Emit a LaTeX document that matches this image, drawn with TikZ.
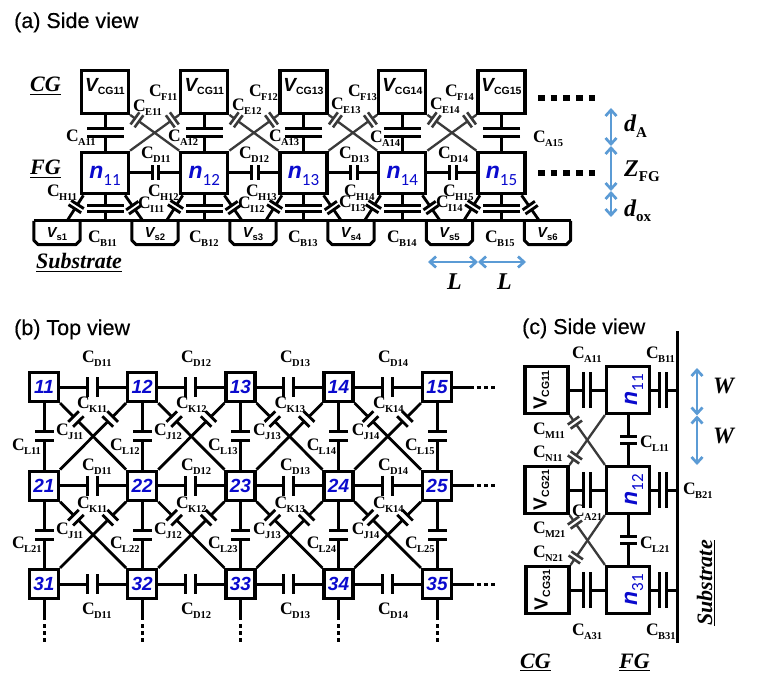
\documentclass[tikz,border=0pt]{standalone}
\usepackage{fontspec}
\setmainfont{Liberation Serif}
\setsansfont{Liberation Sans}
\newfontfamily\cali{Carlito}
\newfontfamily\ttlfont[FakeBold=0.35]{Liberation Sans}
\usetikzlibrary{arrows.meta,calc}
\definecolor{nblue}{HTML}{0A0ACD}
\definecolor{arrblue}{HTML}{5B9BD5}
\definecolor{dgray}{HTML}{3A3A3A}
\newcommand\fsz[1]{\fontsize{#1}{#1}\selectfont}
\newcommand\Cs[1]{{\bfseries\fsz{17.5}C\kern-0.8pt\raisebox{-4pt}{\fsz{10.5}#1}}}
\newcommand\VCG[1]{\smash{{\sffamily\bfseries\itshape\fsz{19}V}\raisebox{-2.5pt}{\sffamily\bfseries\fsz{10.5}CG#1}}}
\newcommand\VCGup[1]{\smash{{\sffamily\bfseries\fsz{19}V}\raisebox{-2.5pt}{\sffamily\bfseries\fsz{10.5}CG#1}}}
\newcommand\Nn[1]{{\color{nblue}{\sffamily\bfseries\itshape\fsz{23}n}\raisebox{-6pt}[0pt][0pt]{\cali\fsz{17}#1}}}
\newcommand\Vs[1]{{\sffamily\bfseries\itshape\fsz{14.5}V}\raisebox{-2.5pt}[0pt][0pt]{\sffamily\bfseries\fsz{9.5}s#1}\hspace{6pt}}
\newcommand\Gn[1]{{\color{nblue}\sffamily\bfseries\itshape\fsz{19}#1}}
\newcommand\ulbox[1]{\setbox0\hbox{#1}\rlap{\rule[-3pt]{\wd0}{1.1pt}}\box0}
% capacitor: line from #2 to #3 in style #1, plates at pos #4; #5 = {gap}{half}{width}{colour}
\newcommand\capw[5]{\draw[#1] #2 -- #3; \path #2 -- #3 pic[pos=#4,sloped]{cplates=#5};}
\tikzset{
  pics/cplates/.style n args={4}{code={
    \fill[white] (-#1/2,-#2) rectangle (#1/2,#2);
    \draw[line width=#3pt,color=#4,line cap=butt] (-#1/2,-#2) -- (-#1/2,#2) (#1/2,-#2) -- (#1/2,#2);
  }},
  wire/.style={line width=3pt,color=black,line cap=butt},
  thinw/.style={line width=2.8pt,color=black,line cap=butt},
  xwire/.style={line width=2.3pt,color=dgray,line cap=butt},
  box/.style={draw=black,line width=3.2pt,fill=white,inner sep=0pt,align=center},
  cgbox/.style={box,minimum width=47pt,minimum height=42.5pt},
  fgbox/.style={box,minimum width=47pt,minimum height=41.5pt},
  gridbox/.style={box,minimum width=29pt,minimum height=29pt},
  sidebox/.style={box,minimum width=43pt,minimum height=47pt},
  vsbox/.style={inner sep=0pt,minimum width=46pt,minimum height=23.5pt},
  clab/.style={anchor=base west,inner sep=0pt},
  ttl/.style={anchor=base west,inner sep=0pt,font=\ttlfont\fsz{21.5}},
  ital/.style={anchor=base west,inner sep=0pt,font=\bfseries\itshape\fsz{22}},
  dim/.style={line width=2.7pt,color=arrblue,{Straight Barb[length=6pt,width=11pt]}-{Straight Barb[length=6pt,width=11pt]}},
  sqdots/.style={line width=6.5pt,color=black,dash pattern=on 6.5pt off 6.2pt},
  smdots/.style={line width=3pt,color=black,dash pattern=on 4pt off 3.2pt},
}
\begin{document}
\begin{tikzpicture}[x=1pt,y=-1pt]
\useasboundingbox (0,0) rectangle (763,687);
\fill[white] (0,0) rectangle (763,687);

%% ---------- (a) ----------
\node[ttl] (ta) at (14,28) {(a) Side view};
\foreach \i/\x in {1/105,2/204.3,3/303.5,4/402.3,5/501.5}{
  \coordinate (bb\i) at (\x,221);
  \coordinate (hb\i) at (\x-38,221);
  \coordinate (ib\i) at (\x+38,221);
}
\foreach \i/\x/\t in {1/105/11,2/204.3/11,3/303.5/13,4/402.3/14,5/501.5/15}
  \node[cgbox] (cg\i) at (\x,92) {\VCG{\t}};
\foreach \i/\x/\t in {1/105/11,2/204.3/12,3/303.5/13,4/402.3/14,5/501.5/15}
  \node[fgbox,text height=12pt] (fg\i) at (\x,173) {\Nn{\t}};
\foreach \i/\x in {1/57,2/155,3/253,4/351,5/449.5,6/547.5}{
  \node[vsbox] (vs\i) at (\x,232.75) {\Vs{\i}};
  \draw[line width=3pt,line join=round] (vs\i.north west) -- ([yshift=4.5pt]vs\i.south west) -- ([xshift=4.5pt]vs\i.south west) -- ([xshift=-4.5pt]vs\i.south east) -- ([yshift=4.5pt]vs\i.south east) -- (vs\i.north east);
}
\draw[line width=3pt] (vs1.north west) -- (vs6.north east);
\foreach \i in {1,...,5}{
  \capw{wire}{(cg\i.south)}{(fg\i.north)}{.5}{{7.5}{18.5}{3}{black}}
  \capw{wire}{(fg\i.south)}{(bb\i)}{.5}{{6.2}{18.5}{3}{black}}
  \capw{thinw}{([xshift=3.5pt]fg\i.south west)}{(hb\i)}{.44}{{5}{7.5}{2.9}{black}}
  \capw{thinw}{([xshift=-5pt]fg\i.south east)}{(ib\i)}{.48}{{5}{7.5}{2.9}{black}}
}
\foreach \i/\j in {1/2,2/3,3/4,4/5}{
  \capw{wire}{(fg\i.east)}{(fg\j.west)}{.52}{{6.5}{7.5}{3}{black}}
  \capw{xwire}{(cg\i.south east)}{(fg\j.north west)}{.14}{{5}{7.5}{2.6}{dgray}}
  \capw{xwire}{(fg\i.north east)}{(cg\j.south west)}{.86}{{5}{7.5}{2.6}{dgray}}
}
\foreach \t/\x/\y in {A11/66/142,A12/168/142,A13/269/142,A14/370/143,A15/533/143,
  F11/149/97,F12/249/97,F13/348/97,F14/445/97,
  E11/133/112,E12/232/111,E13/331/110,E14/430/110,
  D11/141/159,D12/239/159,D13/339/159,D14/438/159,
  H11/47/197,H12/148/197,H13/246/197,H14/344/197,H15/443/197,
  I11/138/209,I12/238/209,I13/339/208,I14/436/208,
  B11/88/243,B12/189/243,B13/288/243,B14/387/243,B15/485/243}
  \node[clab] (la\t) at (\x,\y) {\Cs{\t}};
\node[ital] (acg) at (30,92) {\ulbox{CG}};
\node[ital] (afg) at (30,175) {\ulbox{FG}};
\node[ital] (asub) at (36,269) {\ulbox{Substrate}};
\coordinate (dt1) at (538,98); \coordinate (dt2) at (600,98);
\coordinate (dm1) at (538,173); \coordinate (dm2) at (600,173);
\draw[sqdots] (dt1) -- (dt2);
\draw[sqdots] (dm1) -- (dm2);
\coordinate (l1) at (428,262); \coordinate (l2) at (478,262); \coordinate (l3) at (526,262);
\draw[dim] (l1) -- (l2);
\draw[dim] (l2) -- (l3);
\node[anchor=base west,inner sep=0pt,font=\bfseries\itshape\fsz{24}] (tl1) at (447,289) {L};
\node[anchor=base west,inner sep=0pt,font=\bfseries\itshape\fsz{24}] (tl2) at (497,289) {L};
\coordinate (d1) at (611,108); \coordinate (d2) at (611,146); \coordinate (d3) at (611,191); \coordinate (d4) at (611,217);
\draw[dim] (d1) -- (d2);
\draw[dim] (d2) -- (d3);
\draw[dim] (d3) -- (d4);
\node[anchor=base west,inner sep=0pt] (tda) at (624,132) {\bfseries{\itshape\fsz{24}d}\raisebox{-6pt}{\fsz{15}A}};
\node[anchor=base west,inner sep=0pt] (tzf) at (624,177) {\bfseries{\itshape\fsz{24}Z}\raisebox{-5pt}{\fsz{15}FG}};
\node[anchor=base west,inner sep=0pt] (tdo) at (624,217) {\bfseries{\itshape\fsz{24}d}\raisebox{-5pt}{\fsz{15}ox}};

%% ---------- (b) ----------
\node[ttl] (tb) at (14,335) {(b) Top view};
\foreach \r/\y in {1/387,2/485.7,3/584}{
  \foreach \c/\x in {1/44,2/142.2,3/240.5,4/338.5,5/437}{
    \node[gridbox] (g\r\c) at (\x,\y) {\Gn{\r\c}};
  }
}
\foreach \r in {1,2,3}{
  \foreach \c/\d in {1/2,2/3,3/4,4/5}{
    \capw{wire}{(g\r\c.east)}{(g\r\d.west)}{.49}{{10}{10}{3}{black}}
  }
}
\foreach \r/\s in {1/2,2/3}{
  \foreach \c in {1,...,5}{
    \capw{wire}{(g\r\c.south)}{(g\s\c.north)}{.5}{{9}{9.5}{3}{black}}
  }
  \foreach \c/\d in {1/2,2/3,3/4,4/5}{
    \capw{thinw}{(g\r\c.south east)}{(g\s\d.north west)}{.24}{{7}{7.5}{2.8}{black}}
    \capw{thinw}{(g\r\d.south west)}{(g\s\c.north east)}{.24}{{7}{7.5}{2.8}{black}}
  }
}
\foreach \r/\y in {1/387,2/485.7,3/584}{
  \coordinate (rs\r) at (473.5,\y);
  \coordinate (ra\r) at (476.7,\y);
  \coordinate (rb\r) at (496,\y);
  \draw[wire] (g\r5.east) -- (rs\r);
  \draw[smdots] (ra\r) -- (rb\r);
}
\foreach \c/\x in {1/44,2/142.2,3/240.5,4/338.5,5/437}{
  \coordinate (ds\c) at (\x,620);
  \coordinate (da\c) at (\x,624);
  \coordinate (db\c) at (\x,642);
  \draw[wire] (g3\c.south) -- (ds\c);
  \draw[smdots] (da\c) -- (db\c);
}
\foreach \n/\x in {11/82,12/181,13/280,14/378}{
  \node[clab] (lbd\n a) at (\x,362) {\Cs{D\n}};
  \node[clab] (lbd\n b) at (\x,470) {\Cs{D\n}};
  \node[clab] (lbd\n c) at (\x,614) {\Cs{D\n}};
}
\foreach \n/\x in {11/77,12/176,13/274.5,14/373}{
  \node[clab] (lbk\n a) at (\x,408) {\Cs{K\n}};
  \node[clab] (lbk\n b) at (\x,508) {\Cs{K\n}};
}
\foreach \n/\x in {11/56,12/154,13/253,14/351.7}{
  \node[clab] (lbj\n a) at (\x,435) {\Cs{J\n}};
  \node[clab] (lbj\n b) at (\x,534) {\Cs{J\n}};
}
\foreach \n/\x in {1/12,2/110,3/208,4/306.7,5/405}{
  \node[clab] (lbl\n a) at (\x,450) {\Cs{L1\n}};
  \node[clab] (lbl\n b) at (\x,548) {\Cs{L2\n}};
}

%% ---------- (c) ----------
\node[ttl] (tc) at (522,334) {(c) Side view};
\coordinate (st) at (677,331); \coordinate (sb) at (677,643);
\draw[line width=3pt] (st) -- (sb);
\foreach \r/\y/\x/\t/\u in {1/390/546.5/11/11,2/490/546.5/21/12,3/590/547.5/31/31}{
  \node[sidebox] (sv\r) at (\x,\y) {};
  \node[rotate=90,inner sep=0pt] (svt\r) at (sv\r.center) {\VCGup{\t}};
  \node[sidebox] (sn\r) at (628,\y) {};
  \node[rotate=90,inner sep=0pt,text height=12pt] (snt\r) at ([xshift=3pt]sn\r.center) {\Nn{\u}};
  \coordinate (sx\r) at (677,\y);
  \capw{wire}{(sv\r.east)}{(sn\r.west)}{.49}{{7}{18}{3}{black}}
  \capw{wire}{(sn\r.east)}{(sx\r)}{.47}{{7}{18}{3}{black}}
}
\foreach \r/\s in {1/2,2/3}{
  \capw{wire}{(sn\r.south)}{(sn\s.north)}{.5}{{7.3}{8.5}{3}{black}}
  \capw{xwire}{(sv\r.south east)}{(sn\s.north west)}{.15}{{5}{7}{2.6}{dgray}}
  \capw{xwire}{(sn\r.south west)}{(sv\s.north east)}{.85}{{5}{7}{2.6}{dgray}}
}
\foreach \t/\x/\y in {A11/572/358,B11/646/358,M11/533/434,N11/533/457,L11/640/447,
  B21/683/494,A21/572/516,M21/533/533,N21/533/557,L21/640/548,A31/572/635,B31/646/635}
  \node[clab] (lc\t) at (\x,\y) {\Cs{\t}};
\node[ital] (ccg) at (520,668) {\ulbox{CG}};
\node[ital] (cfg) at (619,668) {\ulbox{FG}};
\node[ital,rotate=90] (csub) at (712,626) {\ulbox{Substrate}};
\coordinate (w1) at (697,368); \coordinate (w2) at (697,415.5); \coordinate (w3) at (697,465);
\draw[dim] (w1) -- (w2);
\draw[dim] (w2) -- (w3);
\node[anchor=base west,inner sep=0pt,font=\bfseries\itshape\fsz{23.5}] (tw1) at (713,393) {W};
\node[anchor=base west,inner sep=0pt,font=\bfseries\itshape\fsz{23.5}] (tw2) at (713,443) {W};
\end{tikzpicture}
\end{document}
